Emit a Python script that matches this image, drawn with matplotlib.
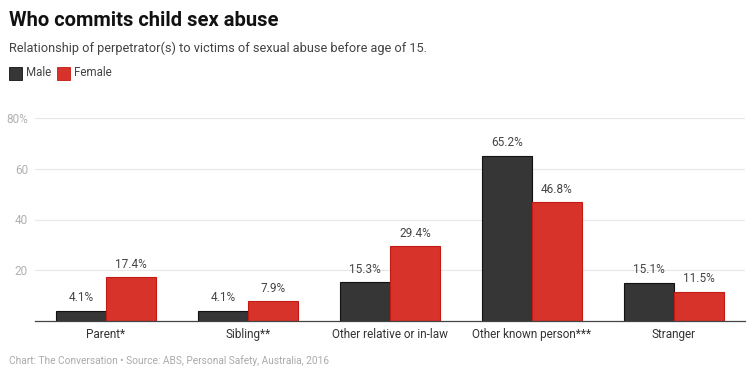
import numpy as np
import matplotlib
matplotlib.use("Agg")
from matplotlib import pyplot as plt
from matplotlib.patches import Rectangle

plt.rcParams['font.family'] = ['Roboto', 'DejaVu Sans']

# data
categories = ['Parent*', 'Sibling**', 'Other relative or in-law', 'Other known person***', 'Stranger']
male = [4.1, 4.1, 15.3, 65.2, 15.1]
female = [17.4, 7.9, 29.4, 46.8, 11.5]
yticks = [20, 40, 60, 80]
ytick_labels = ['20', '40', '60', '80%']

male_col = '#363636'
female_col = '#d7332a'

fig = plt.figure(figsize=(7.54, 3.86), dpi=100)
W, H = 754, 386
ax = fig.add_axes([35 / W, 1 - 321 / H, 710 / W, 203 / H])

x = np.arange(len(categories))
w = 0.35
ax.bar(x - w / 2, male, w, color=male_col, edgecolor='#111111', linewidth=0.8, zorder=3)
ax.bar(x + w / 2, female, w, color=female_col, edgecolor='#c41a14', linewidth=0.8, zorder=3)

for i in range(len(categories)):
    ax.text(x[i] - w / 2, male[i] + 2.5, "%.1f%%" % male[i], ha='center', va='bottom',
            fontsize=8.5, color='#444444')
    ax.text(x[i] + w / 2, female[i] + 2.5, "%.1f%%" % female[i], ha='center', va='bottom',
            fontsize=8.5, color='#444444')

ax.set_xlim(-0.5, len(categories) - 0.5)
ax.set_ylim(0, 80)
ax.set_yticks(yticks)
ax.set_yticklabels(ytick_labels)
ax.set_xticks(x)
ax.set_xticklabels(categories)
ax.tick_params(axis='y', length=0, pad=5, labelsize=8.5, labelcolor='#b0b0b0')
ax.tick_params(axis='x', length=0, pad=5, labelsize=8.5, labelcolor='#333333')
for lab in ax.get_yticklabels():
    lab.set_horizontalalignment('right')
ax.grid(axis='y', color='#e8e8e8', linewidth=0.9, zorder=0)
for s in ['top', 'right', 'left']:
    ax.spines[s].set_visible(False)
ax.spines['bottom'].set_color('#444444')
ax.spines['bottom'].set_linewidth(0.9)
ax.spines['bottom'].set_zorder(4)

# header
fig.text(9 / W, 1 - 20 / H, 'Who commits child sex abuse', fontsize=14.5, fontweight='bold',
         color='#111111', va='center', ha='left')
fig.text(9 / W, 1 - 48 / H, 'Relationship of perpetrator(s) to victims of sexual abuse before age of 15.',
         fontsize=9.2, color='#444444', va='center', ha='left')

# legend
fig.patches.append(Rectangle((9 / W, 1 - 80 / H), 13 / W, 13 / H, transform=fig.transFigure,
                             facecolor=male_col, edgecolor='#111111', linewidth=0.6))
fig.text(26 / W, 1 - 73 / H, 'Male', fontsize=8.3, color='#444444', va='center', ha='left')
fig.patches.append(Rectangle((57 / W, 1 - 80 / H), 13 / W, 13 / H, transform=fig.transFigure,
                             facecolor=female_col, edgecolor='#c41a14', linewidth=0.6))
fig.text(74 / W, 1 - 73 / H, 'Female', fontsize=8.3, color='#444444', va='center', ha='left')

# footer
fig.text(9 / W, 1 - 361 / H, 'Chart: The Conversation \u2022 Source: ABS, Personal Safety, Australia, 2016',
         fontsize=7.3, color='#aaaaaa', va='center', ha='left')

fig.savefig('out.png', dpi=100)
